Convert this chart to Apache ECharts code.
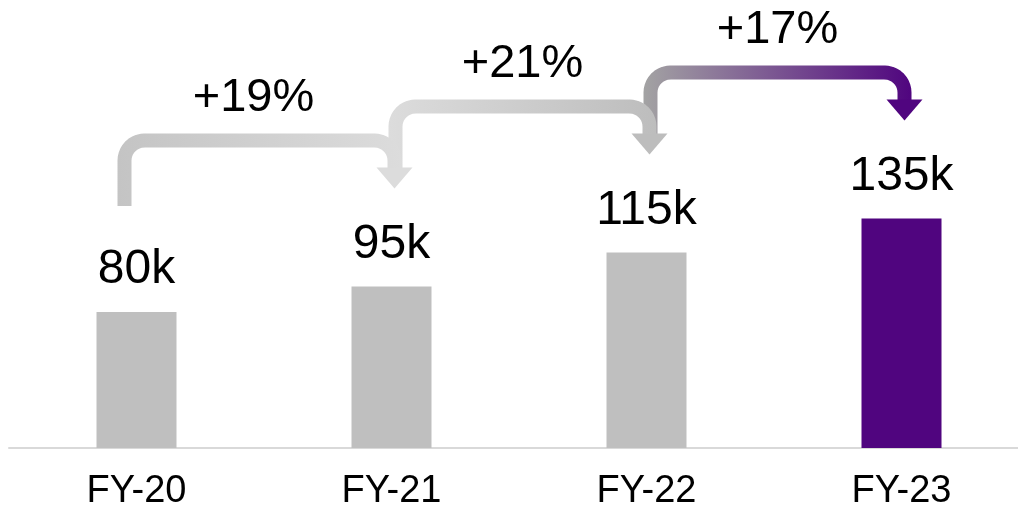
<!DOCTYPE html>
<html>
<head>
<meta charset="utf-8">
<title>FY revenue</title>
<script src="https://cdn.jsdelivr.net/npm/echarts@6/dist/echarts.min.js"></script>
<style>
  html, body { margin: 0; padding: 0; background: #fff; }
  #chart { width: 1018px; height: 512px; }
</style>
</head>
<body>
<div id="chart"></div>
<script>
// values
var CATEGORIES = ['FY-20', 'FY-21', 'FY-22', 'FY-23'];
var REVENUE = [80, 95, 115, 135];
var GROWTH = ['+19%', '+21%', '+17%'];

var FONT = 'Liberation Sans, Arial, sans-serif';
var BAR_COLORS = ['#bfbfbf', '#bfbfbf', '#bfbfbf', '#50057f'];
var ARROW_COLORS = [
	['#c4c4c4', '#dcdcdc'],
	['#dcdcdc', '#bdbdbd'],
	['#a3a3a3', '#50057f']
];

function arcPoints(cx, cy, r, a0, a1) {
	var pts = [];
	for (var k = 0; k <= 10; k++) {
		var a = a0 + (a1 - a0) * k / 10;
		pts.push([cx + r * Math.cos(a), cy + r * Math.sin(a)]);
	}
	return pts;
}

function renderArrow(params, api) {
	var i = api.value(0);
	var j = api.value(1);
	var from = api.coord([i, REVENUE[i]]);
	var to = api.coord([j, REVENUE[j]]);

	var r = 20, headW = 36, headLen = 21;
	var sx = from[0] + (i === 0 ? -12 : 4);
	var ex = to[0] + 3;
	var hy = to[1] - 146;
	var tipY = to[1] - 98;
	var baseY = tipY - headLen;
	var sy = i === 0 ? from[1] - 106 : from[1] - 110;

	var pts = [[sx, sy]];
	pts = pts.concat(arcPoints(sx + r, hy + r, r, Math.PI, Math.PI * 1.5));
	pts = pts.concat(arcPoints(ex - r, hy + r, r, Math.PI * 1.5, Math.PI * 2));
	pts.push([ex, baseY + 1]);

	var c = ARROW_COLORS[i];
	var z = 30 - i * 3;
	return {
		type: 'group',
		children: [{
			type: 'polyline',
			z2: z,
			shape: { points: pts },
			style: {
				fill: null,
				lineWidth: 14,
				lineCap: 'butt',
				lineJoin: 'round',
				stroke: new echarts.graphic.LinearGradient(0, 0, 1, 0, [
					{ offset: 0, color: c[0] },
					{ offset: 1, color: c[1] }
				])
			}
		}, {
			type: 'polygon',
			z2: z + 1,
			shape: { points: [[ex - headW / 2, baseY], [ex + headW / 2, baseY], [ex, tipY]] },
			style: { fill: c[1] }
		}, {
			type: 'text',
			z2: 40,
			x: (sx + ex) / 2 - (i === 0 ? 6 : 0),
			y: hy - 42,
			style: {
				text: GROWTH[i],
				fill: '#000',
				font: '47px ' + FONT,
				align: 'center',
				verticalAlign: 'middle'
			}
		}]
	};
}

var chart = echarts.init(document.getElementById('chart'));

var option = {
	animation: false,
	grid: { left: 9, right: -11, top: 23, bottom: 64, outerBoundsMode: 'none' },
	xAxis: {
		type: 'category',
		data: CATEGORIES,
		axisLine: { lineStyle: { color: '#d9d9d9', width: 2 } },
		axisTick: { show: false },
		axisLabel: { color: '#000', fontSize: 38, fontFamily: FONT, margin: 25 }
	},
	yAxis: {
		type: 'value',
		min: 0,
		max: 250,
		show: false,
		splitLine: { show: false }
	},
	series: [{
		type: 'bar',
		barWidth: 80,
		data: REVENUE.map(function(v, k) {
			return { value: v, itemStyle: { color: BAR_COLORS[k] } };
		}),
		label: {
			show: true,
			position: 'top',
			distance: 18,
			color: '#000',
			fontSize: 48,
			fontFamily: FONT,
			formatter: function(p) { return p.value + 'k'; }
		}
	}, {
		type: 'custom',
		renderItem: renderArrow,
		encode: { x: 0, y: 1 },
		data: GROWTH.map(function(g, k) { return [k, k + 1]; }),
		silent: true
	}]
};

chart.setOption(option);
</script>
</body>
</html>
